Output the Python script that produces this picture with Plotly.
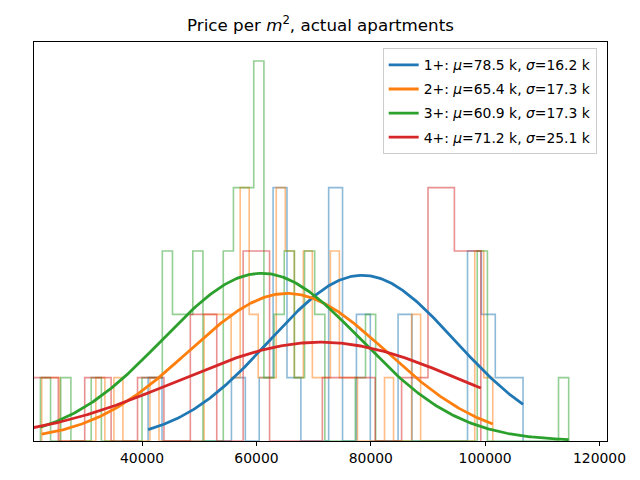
import numpy as np
import plotly.graph_objects as go

# ---- data ----
groups = ["1+", "2+", "3+", "4+"]
colors = ["#1f77b4", "#ff7f0e", "#2ca02c", "#d62728"]

# histogram bins: first edge, bin width, counts per bin
blue_start, blue_width = 41051, 2429
blue_counts = [1, 0, 0, 0, 0, 0, 1, 0, 1, 4, 1, 0, 0, 4, 0, 2, 0, 0, 2, 0, 0, 0, 0, 3, 2, 1, 1]

orange_start, orange_width = 22437, 1578
orange_counts = [1, 1, 0, 0, 0, 0, 1, 0, 1, 0, 0, 0, 1, 0, 0, 0, 0, 0, 2, 2,
                 2, 1, 4, 2, 1, 1, 4, 3, 1, 3, 1, 1, 3, 1, 1, 0, 0, 0, 1, 0,
                 0, 2, 0, 0, 0, 0, 0, 0, 3, 1]

green_start, green_width = 22210, 1777
green_counts = [1, 0, 1, 0, 0, 1, 0, 0, 0, 0, 1, 1, 3, 2, 2, 3, 0, 0, 3, 4,
                4, 6, 1, 2, 3, 1, 3, 2, 0, 0, 0, 1, 2, 0, 0, 0, 0, 0, 0, 0,
                0, 0, 0, 3, 0, 0, 0, 0, 0, 0, 0, 1]

red_start, red_width = 20721, 4619
red_counts = [1, 0, 1, 0, 1, 0, 2, 0, 3, 0, 0, 1, 1, 0, 1, 4, 3]

# fitted normal curves (legend values, in k) and their plotted peak heights
mu_k = [78.5, 65.4, 60.9, 71.2]
sigma_k = [16.2, 17.3, 17.3, 25.1]
curve_peak = [2.616, 2.33, 2.648, 1.56]

x_ticks = [40000, 60000, 80000, 100000, 120000]
x_range = [21089, 121316]
y_range = [0, 6.3]

hists = [
    (blue_start, blue_width, blue_counts),
    (orange_start, orange_width, orange_counts),
    (green_start, green_width, green_counts),
    (red_start, red_width, red_counts),
]

fig = go.Figure()

# step histograms
for (start, width, counts), col in zip(hists, colors):
    edges = start + width * np.arange(len(counts) + 1)
    xs = [edges[0]] + list(edges[:-1]) + [edges[-1], edges[-1]]
    ys = [0] + list(counts) + [counts[-1], 0]
    fig.add_trace(go.Scatter(
        x=xs, y=ys, mode="lines", line=dict(color=col, width=1.6, shape="hv"),
        opacity=0.5, showlegend=False, hoverinfo="skip"))

# normal curves
for i, ((start, width, counts), col) in enumerate(zip(hists, colors)):
    lo, hi = start, start + width * len(counts)
    xs = np.linspace(lo, hi, 300)
    mu = mu_k[i] * 1000
    sd = sigma_k[i] * 1000
    ys = curve_peak[i] * np.exp(-0.5 * ((xs - mu) / sd) ** 2)
    name = f"{groups[i]}: <i>μ</i>={mu_k[i]:.1f} k, <i>σ</i>={sigma_k[i]:.1f} k"
    fig.add_trace(go.Scatter(
        x=xs, y=ys, mode="lines", line=dict(color=col, width=2.8),
        name=name, legendgroup=f"g{i}"))

# the page adds an 8px body margin, so the figure is 632x472 placed at (8, 8)
W, H = 632, 472
fig.update_layout(
    width=W, height=H,
    margin=dict(l=26, r=33, t=34, b=39),
    paper_bgcolor="white", plot_bgcolor="white",
    font=dict(family="DejaVu Sans", size=13.9, color="black"),
    title=dict(text="Price per <i>m</i><sup>2</sup>, actual apartments",
               x=0.5, xref="paper", xanchor="center",
               y=1 - 17 / H, yref="container", yanchor="middle",
               font=dict(size=16.7)),
    legend=dict(x=0.982, xanchor="right", y=0.984, yanchor="top",
                bgcolor="rgba(255,255,255,0.8)", bordercolor="#cccccc",
                borderwidth=1, tracegroupgap=3, font=dict(size=13.9)),
    showlegend=True,
)
fig.update_xaxes(range=x_range, tickvals=x_ticks, ticktext=[str(t) for t in x_ticks],
                 ticks="outside", ticklen=4, tickcolor="black", showgrid=False,
                 zeroline=False, showline=True, linecolor="black", linewidth=1,
                 mirror=True)
fig.update_yaxes(range=y_range, showticklabels=False, ticks="", showgrid=False,
                 zeroline=False, showline=True, linecolor="black", linewidth=1,
                 mirror=True)

fig.write_html("out.html")
